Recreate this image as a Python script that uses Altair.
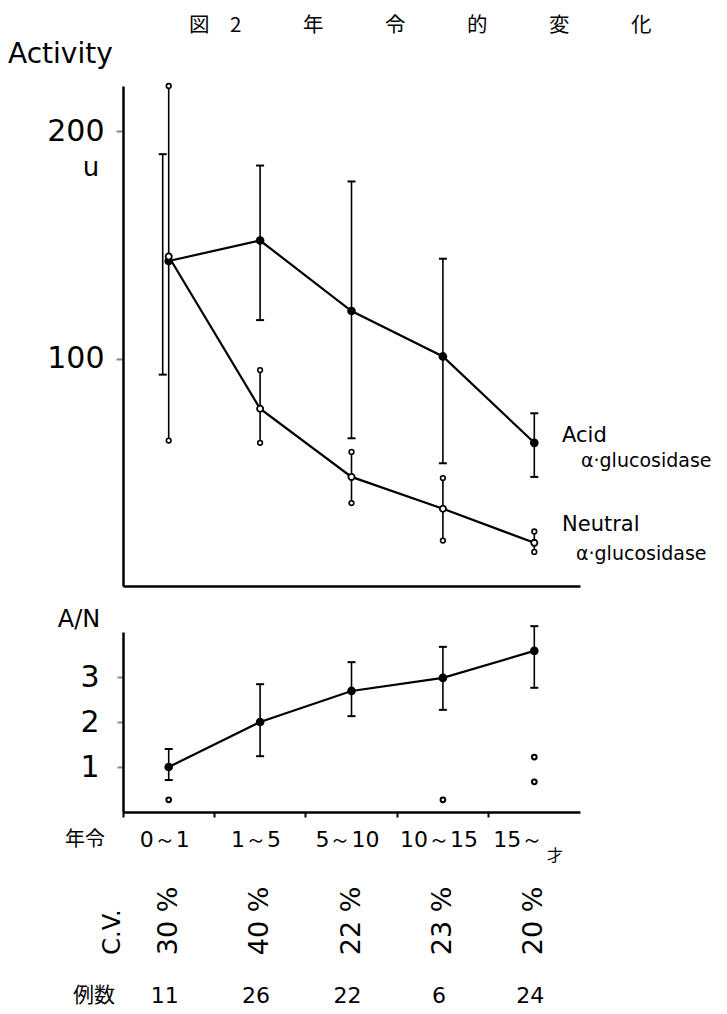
import altair as alt
import pandas as pd

# ---------------- data ----------------
categories = ["0～1", "1～5", "5～10", "10～15", "15～"]

acid_mean = [143, 152, 121, 101, 63]
acid_upper = [190, 185, 178, 144, 76]
acid_lower = [93, 117, 65, 54, 48]

neutral_mean = [145, 78, 48, 34, 19]
neutral_upper = [220, 95, 59, 47.5, 24]
neutral_lower = [64, 63, 36.5, 20, 15]

ratio_mean = [1.0, 2.0, 2.69, 2.98, 3.58]
ratio_upper = [1.4, 2.84, 3.33, 3.67, 4.13]
ratio_lower = [0.71, 1.24, 2.13, 2.27, 2.76]

extra_cats = ["0～1", "10～15", "15～", "15～"]
extra_vals = [0.27, 0.27, 1.22, 0.67]

cv_labels = ["30 %", "40 %", "22 %", "23 %", "20 %"]
case_counts = ["11", "26", "22", "6", "24"]

activity_ticks = [100, 200]
ratio_ticks = [1, 2, 3]

title_text = "図　2　　　年　　　令　　　的　　　変　　　化"
ylabel_top = "Activity"
unit_text = "u"
acid_label = ["Acid", "α·glucosidase"]
neutral_label = ["Neutral", "α·glucosidase"]
ratio_label = "A/N"
age_label = "年令"
age_unit = "才"
cv_title = "C.V."
count_title = "例数"

LATIN = "DejaVu Sans"
CJK = "Noto Sans CJK JP"

acid = pd.DataFrame({"cat": categories, "mean": acid_mean, "upper": acid_upper, "lower": acid_lower})
neutral = pd.DataFrame({"cat": categories, "mean": neutral_mean, "upper": neutral_upper, "lower": neutral_lower})
ratio = pd.DataFrame({"cat": categories, "mean": ratio_mean, "upper": ratio_upper, "lower": ratio_lower})
extras = pd.DataFrame({"cat": extra_cats, "val": extra_vals})
rows = pd.DataFrame({"cat": categories, "cv": cv_labels, "n": case_counts})

xscale = alt.Scale(type="band", domain=categories, paddingInner=0, paddingOuter=0)

# ---------------- top panel ----------------
x_top = alt.X("cat:N", scale=xscale, sort=categories, title=None,
              axis=alt.Axis(labels=False, ticks=False, domainWidth=2.5, domainColor="black"))
ytop_scale = alt.Scale(domain=[0, 220], nice=False, zero=True)
ytop_axis = alt.Axis(values=activity_ticks, grid=False, tickSize=7, tickWidth=2,
                     labelFontSize=30, labelPadding=12, labelFont=LATIN,
                     domainWidth=2.5, domainColor="black", labelColor="black")


def yt(field):
    return alt.Y(f"{field}:Q", scale=ytop_scale, axis=ytop_axis, title=None)


first = alt.FieldEqualPredicate(field="cat", equal=categories[0])
not_first = alt.FieldOneOfPredicate(field="cat", oneOf=categories[1:])

acid_rule = alt.Chart(acid).transform_filter(not_first).mark_rule(color="black", strokeWidth=1.6).encode(
    x=x_top, y=yt("lower"), y2="upper:Q")
acid_rule0 = alt.Chart(acid).transform_filter(first).mark_rule(color="black", strokeWidth=1.6, xOffset=-6).encode(
    x=x_top, y=yt("lower"), y2="upper:Q")
acid_capu = alt.Chart(acid).transform_filter(not_first).mark_tick(
    orient="horizontal", size=8, thickness=2, color="black", opacity=1).encode(x=x_top, y=yt("upper"))
acid_capl = alt.Chart(acid).transform_filter(not_first).mark_tick(
    orient="horizontal", size=8, thickness=2, color="black", opacity=1).encode(x=x_top, y=yt("lower"))
acid_capu0 = alt.Chart(acid).transform_filter(first).mark_tick(
    orient="horizontal", size=8, thickness=2, color="black", opacity=1, xOffset=-6).encode(x=x_top, y=yt("upper"))
acid_capl0 = alt.Chart(acid).transform_filter(first).mark_tick(
    orient="horizontal", size=8, thickness=2, color="black", opacity=1, xOffset=-6).encode(x=x_top, y=yt("lower"))

neut_rule = alt.Chart(neutral).mark_rule(color="black", strokeWidth=1.6).encode(
    x=x_top, y=yt("lower"), y2="upper:Q")
neut_capu = alt.Chart(neutral).mark_point(filled=True, fill="white", stroke="black", strokeWidth=1.6,
                                          size=22, opacity=1).encode(x=x_top, y=yt("upper"))
neut_capl = alt.Chart(neutral).mark_point(filled=True, fill="white", stroke="black", strokeWidth=1.6,
                                          size=22, opacity=1).encode(x=x_top, y=yt("lower"))

acid_line = alt.Chart(acid).mark_line(color="black", strokeWidth=2.2).encode(x=x_top, y=yt("mean"))
neut_line = alt.Chart(neutral).mark_line(color="black", strokeWidth=2.2).encode(x=x_top, y=yt("mean"))
acid_pts = alt.Chart(acid).mark_circle(color="black", size=75, opacity=1).encode(x=x_top, y=yt("mean"))
neut_pts = alt.Chart(neutral).mark_point(filled=True, fill="white", stroke="black", strokeWidth=1.8,
                                         size=38, opacity=1).encode(x=x_top, y=yt("mean"))


def label(text, x, y, size, font=LATIN, align="left", baseline="middle", angle=0):
    return alt.Chart(pd.DataFrame({"t": [text]})).mark_text(
        fontSize=size, font=font, align=align, baseline=baseline, angle=angle, color="black"
    ).encode(text="t:N", x=alt.value(x), y=alt.value(y))


top_texts = [
    label(title_text, 66, -60, 20.5, font=CJK),
    label(ylabel_top, -115, -31, 28),
    label(unit_text, -32, 82, 26, align="center"),
    label(acid_label[0], 439, 350, 21),
    label(acid_label[1], 458, 375, 19),
    label(neutral_label[0], 439, 439, 21),
    label(neutral_label[1], 453, 468, 19),
]

top = alt.layer(
    acid_rule, acid_rule0, acid_capu, acid_capl, acid_capu0, acid_capl0,
    neut_rule, neut_capu, neut_capl,
    acid_line, neut_line, acid_pts, neut_pts,
    *top_texts
).properties(width=457, height=500)

# ---------------- bottom panel ----------------
x_bot = alt.X("cat:N", scale=xscale, sort=categories, title=None,
              axis=alt.Axis(labels=False, ticks=True, bandPosition=0, tickSize=5, tickWidth=2,
                            domainWidth=2.5, domainColor="black", tickColor="black"))
ybot_scale = alt.Scale(domain=[0, 4], nice=False, zero=True)
ybot_axis = alt.Axis(values=ratio_ticks, grid=False, tickSize=6, tickWidth=2,
                     labelFontSize=30, labelPadding=18, labelFont=LATIN,
                     domainWidth=2.5, domainColor="black", labelColor="black")


def yb(field):
    return alt.Y(f"{field}:Q", scale=ybot_scale, axis=ybot_axis, title=None)


r_rule = alt.Chart(ratio).mark_rule(color="black", strokeWidth=1.6).encode(x=x_bot, y=yb("lower"), y2="upper:Q")
r_capu = alt.Chart(ratio).mark_tick(orient="horizontal", size=8, thickness=2, color="black", opacity=1).encode(
    x=x_bot, y=yb("upper"))
r_capl = alt.Chart(ratio).mark_tick(orient="horizontal", size=8, thickness=2, color="black", opacity=1).encode(
    x=x_bot, y=yb("lower"))
r_line = alt.Chart(ratio).mark_line(color="black", strokeWidth=2.2).encode(x=x_bot, y=yb("mean"))
r_pts = alt.Chart(ratio).mark_circle(color="black", size=75, opacity=1).encode(x=x_bot, y=yb("mean"))
r_extra = alt.Chart(extras).mark_point(filled=True, fill="white", stroke="black", strokeWidth=2,
                                       size=22, opacity=1).encode(x=x_bot, y=yb("val"))

first4 = alt.FieldOneOfPredicate(field="cat", oneOf=categories[:4])
last = alt.FieldEqualPredicate(field="cat", equal=categories[4])

cat_text = alt.Chart(rows).transform_filter(first4).mark_text(
    fontSize=22, font=LATIN, dx=-4, baseline="middle", color="black").encode(
    x=x_bot, y=alt.value(208), text="cat:N")
cat_text_last = alt.Chart(rows).transform_filter(last).mark_text(
    fontSize=22, font=LATIN, dx=-16, baseline="middle", color="black").encode(
    x=x_bot, y=alt.value(208), text="cat:N")
cv_text = alt.Chart(rows).mark_text(
    fontSize=27, font=LATIN, angle=270, align="center", baseline="middle", color="black").encode(
    x=x_bot, y=alt.value(289), text="cv:N")
n_text = alt.Chart(rows).mark_text(
    fontSize=22, font=LATIN, dx=-4, baseline="middle", color="black").encode(
    x=x_bot, y=alt.value(364), text="n:N")

bottom_texts = [
    label(ratio_label, -44, -12, 24, align="center"),
    label(age_label, -38, 208, 20, font=CJK, align="center"),
    label(age_unit, 432, 224, 16, font=CJK, align="center"),
    label(cv_title, -10, 300, 24, align="center", angle=270),
    label(count_title, -29, 364, 21, font=CJK, align="center"),
]

bottom = alt.layer(
    r_rule, r_capu, r_capl, r_line, r_pts, r_extra,
    cat_text, cat_text_last, cv_text, n_text, *bottom_texts
).properties(width=457, height=180)

chart = alt.vconcat(top, bottom, spacing=46, bounds="flush").properties(
    padding={"left": 0, "top": 8, "right": 0, "bottom": 8}
).configure_view(strokeWidth=0).configure_axis(grid=False)

chart.save("out.html", embed_options={"renderer": "svg", "actions": False})
